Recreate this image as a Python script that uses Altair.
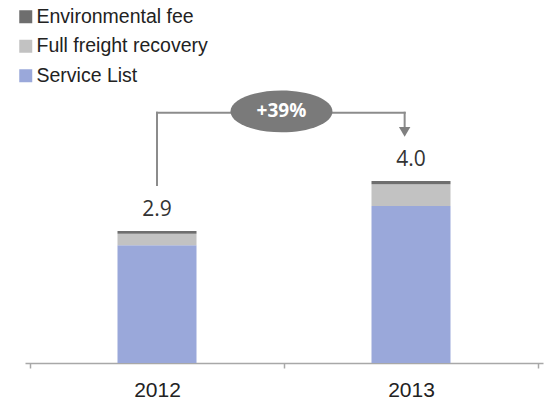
import altair as alt
import pandas as pd

# ---- data ----
years = ["2012", "2013"]
components = ["Environmental fee", "Full freight recovery", "Service List"]
service_list = [2.59, 3.45]
freight_recovery = [0.25, 0.48]
environmental_fee = [0.06, 0.07]
totals = [2.9, 4.0]
total_labels = ["2.9", "4.0"]
growth_label = "+39%"
colors = ["#6e6e6e", "#c2c2c2", "#9aa8da"]

# annotation (data units: x = year index, y = value)
bracket_x = [0.0, 0.975]
bracket_y_start = 3.91
bracket_y_top = 5.5
bracket_y_end = 5.2
arrow_y = 5.08
bubble_x = 0.49
bubble_y = 5.53

rows = []
series = [("Service List", service_list, 0),
          ("Full freight recovery", freight_recovery, 1),
          ("Environmental fee", environmental_fee, 2)]
for i, yr in enumerate(years):
    for comp, vals, order in series:
        rows.append({"year": yr, "idx": i, "component": comp,
                     "value": vals[i], "order": order})
df = pd.DataFrame(rows)

tot_df = pd.DataFrame({"idx": list(range(len(years))), "total": totals,
                       "label": total_labels})

PX_PER_UNIT = 45.5
H = 363
xscale = alt.Scale(domain=[-0.5, len(years) - 0.5], nice=False, zero=False)
yscale = alt.Scale(domain=[0, H / PX_PER_UNIT], nice=False, zero=True)

label_expr = " : ".join(
    [f"datum.value == {i} ? '{y}'" for i, y in enumerate(years)]) + " : ''"
tick_values = [-0.5 + k * 0.5 for k in range(2 * len(years) + 1)]
center_test = " || ".join([f"datum.value == {i}" for i in range(len(years))])

bars = alt.Chart(df).mark_bar(size=79).encode(
    x=alt.X("idx:Q", scale=xscale, title=None,
            axis=alt.Axis(values=tick_values, labelExpr=label_expr,
                          grid=False, domainColor="#a8a8a8", domainWidth=1.5,
                          tickSize=5, tickWidth=1.5,
                          tickColor={"condition": {"test": center_test,
                                                   "value": "transparent"},
                                     "value": "#a8a8a8"},
                          labelFont="Liberation Sans", labelFontSize=21,
                          labelColor="#222222", labelPadding=11,
                          labelFlush=False, labelOverlap=False)),
    y=alt.Y("value:Q", stack="zero", scale=yscale, axis=None),
    color=alt.Color("component:N",
                    scale=alt.Scale(domain=components, range=colors),
                    legend=alt.Legend(orient="none", legendX=-9, legendY=7,
                                      direction="vertical", title=None,
                                      symbolType="square", symbolSize=169,
                                      symbolStrokeWidth=0,
                                      labelFont="Liberation Sans",
                                      labelFontSize=19.5, labelColor="#222222",
                                      labelLimit=400,
                                      rowPadding=8.5, padding=0,
                                      labelOffset=1)),
    order=alt.Order("order:Q", sort="ascending"),
)

value_text = alt.Chart(tot_df).mark_text(
    baseline="middle", dy=-21, fontSize=21, font="Open Sans", color="#333333"
).encode(
    x=alt.X("idx:Q", scale=xscale),
    y=alt.Y("total:Q", scale=yscale),
    text="label:N",
)

seg_df = pd.DataFrame({
    "x": [bracket_x[0], bracket_x[0], bracket_x[1]],
    "x2": [bracket_x[0], bracket_x[1], bracket_x[1]],
    "y": [bracket_y_start, bracket_y_top, bracket_y_top],
    "y2": [bracket_y_top, bracket_y_top, bracket_y_end],
})
bracket = alt.Chart(seg_df).mark_rule(
    color="#8c8c8c", strokeWidth=2, strokeCap="square"
).encode(
    x=alt.X("x:Q", scale=xscale), x2="x2:Q",
    y=alt.Y("y:Q", scale=yscale), y2="y2:Q",
)

arrow_df = pd.DataFrame({"x": [bracket_x[1]], "y": [arrow_y]})
arrow = alt.Chart(arrow_df).mark_point(
    shape="triangle-down", filled=True, size=130, color="#808080", opacity=1
).encode(x=alt.X("x:Q", scale=xscale), y=alt.Y("y:Q", scale=yscale))

bubble_df = pd.DataFrame({"x": [bubble_x], "y": [bubble_y],
                          "label": [growth_label]})
ellipse_path = "M-1,0A1,0.41,0,1,1,1,0A1,0.41,0,1,1,-1,0Z"
bubble = alt.Chart(bubble_df).mark_point(
    shape=ellipse_path, filled=True, size=102 * 102, color="#7a7a7a",
    opacity=1
).encode(x=alt.X("x:Q", scale=xscale), y=alt.Y("y:Q", scale=yscale))
bubble_text = alt.Chart(bubble_df).mark_text(
    baseline="middle", fontSize=19, font="Open Sans", fontWeight="bold",
    color="white"
).encode(x=alt.X("x:Q", scale=xscale), y=alt.Y("y:Q", scale=yscale),
         text="label:N")

chart = alt.layer(bars, value_text, bracket, arrow, bubble, bubble_text).properties(
    width=518, height=H,
    autosize="none",
    padding={"left": 25, "top": 0, "right": 1, "bottom": 44},
    background="white",
).configure_view(stroke=None)

chart.save("out.html", embed_options={"renderer": "svg", "actions": False})
